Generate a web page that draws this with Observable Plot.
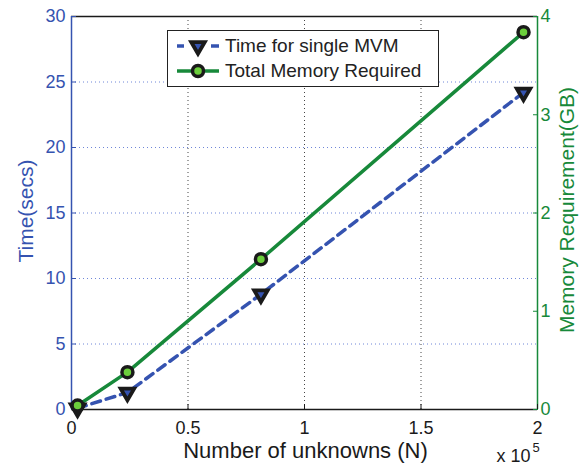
<!DOCTYPE html>
<html>
<head>
<meta charset="utf-8">
<script src="https://cdn.jsdelivr.net/npm/d3@7"></script>
<script src="https://cdn.jsdelivr.net/npm/@observablehq/plot@0.6"></script>
<style>
  body { margin: 0; background: #fff; font-family: "Liberation Sans", Arial, sans-serif; }
  #wrap { position: relative; width: 587px; height: 467px; }
  #legend { position: absolute; left: 167px; top: 30px; width: 272px; height: 57px; box-sizing: border-box;
            border: 1.5px solid #222; background: #fff; }
  .item { position: absolute; left: 9px; height: 24px; display: flex; align-items: center; }
  .item svg { width: 44px; height: 24px; display: block; }
  .item span { margin-left: 4px; font-size: 19px; color: #222; white-space: nowrap; }
</style>
</head>
<body>
<div id="wrap"></div>
<script>
// ---- data ----
const unknowns   = [2600, 24000, 81300, 194000];   // N
const timeSecs   = [0.1, 1.3, 8.8, 24.2];          // Time for single MVM (s)
const memoryGB   = [0.04, 0.38, 1.53, 3.84];       // Total Memory Required (GB)
const seriesNames = ["Time for single MVM", "Total Memory Required"];

const xDomain = [0, 200000];
const xTicks = [0, 50000, 100000, 150000, 200000];
const xTickLabels = ["0", "0.5", "1", "1.5", "2"];
const timeDomain = [0, 30];
const timeTicks = [0, 5, 10, 15, 20, 25, 30];
const memDomain = [0, 4];
const memTicks = [0, 1, 2, 3, 4];

const blue = "#3553b0";
const green = "#17893a";
const lightGreen = "#6ccf3c";
const ink = "#1a1a1a";

// memory drawn on the time scale (dual axis)
const K = timeDomain[1] / memDomain[1];
const rows = unknowns.map((n, i) => ({n, t: timeSecs[i], m: memoryGB[i]}));

const chart = Plot.plot({
  width: 587,
  height: 467,
  marginLeft: 71,
  marginRight: 50,
  marginTop: 16,
  marginBottom: 58,
  style: {fontFamily: "Liberation Sans, Arial, sans-serif", fontSize: "18px", background: "#fff", overflow: "visible"},
  x: {domain: xDomain, label: null},
  y: {domain: timeDomain, label: null},
  marks: [
    Plot.gridY(timeTicks.slice(1, -1), {stroke: "#6f86d8", strokeOpacity: 1, strokeWidth: 1, strokeDasharray: "1,3"}),
    Plot.gridX(xTicks.slice(1, -1), {stroke: "#444", strokeOpacity: 1, strokeWidth: 1, strokeDasharray: "1,3"}),
    Plot.ruleY([timeDomain[1]], {stroke: ink, strokeWidth: 1.5}),
    Plot.ruleY([timeDomain[0]], {stroke: ink, strokeWidth: 1.5}),
    Plot.ruleX([xDomain[0]], {stroke: blue, strokeWidth: 1.5}),
    Plot.ruleX([xDomain[1]], {stroke: green, strokeWidth: 1.5}),
    Plot.axisX({ticks: xTicks, tickFormat: d => xTickLabels[xTicks.indexOf(d)], tickSize: -5, tickPadding: 17,
                fontSize: 18, color: ink, label: null}),
    Plot.axisY({anchor: "left", ticks: timeTicks, tickFormat: d => String(d), tickSize: -5, tickPadding: 11,
                fontSize: 18, color: blue, label: null}),
    Plot.axisY({anchor: "right", ticks: memTicks.map(m => m * K), tickFormat: d => String(Math.round(d / K)),
                tickSize: -5, tickPadding: 8, fontSize: 18, color: green, label: null}),
    Plot.line(rows, {x: "n", y: "t", stroke: blue, strokeWidth: 3.5, strokeDasharray: "9,6"}),
    Plot.line(rows, {x: "n", y: d => d.m * K, stroke: green, strokeWidth: 3.5}),
    Plot.dot(rows, {x: "n", y: "t", symbol: "triangle", rotate: 180, r: 5, fill: blue, stroke: ink,
                    strokeWidth: 3.8, strokeLinejoin: "miter"}),
    Plot.dot(rows, {x: "n", y: d => d.m * K, r: 5.5, fill: lightGreen, stroke: ink, strokeWidth: 3.5}),
    Plot.text(["Time(secs)"], {text: d => d, frameAnchor: "left", textAnchor: "middle", lineAnchor: "middle",
                               dx: -45, dy: -2, rotate: -90, fill: blue, fontSize: 21}),
    Plot.text(["Memory Requirement(GB)"], {text: d => d, frameAnchor: "right", textAnchor: "middle", lineAnchor: "middle",
                               dx: 30, dy: -3, rotate: -90, fill: green, fontSize: 21}),
    Plot.text(["Number of unknowns (N)"], {text: d => d, frameAnchor: "bottom", textAnchor: "middle", lineAnchor: "middle",
                               dx: 1, dy: 41, fill: ink, fontSize: 22}),
    Plot.text(["x 10"], {text: d => d, frameAnchor: "bottom-right", textAnchor: "end", lineAnchor: "middle",
                         dx: -7, dy: 47, fill: ink, fontSize: 18}),
    Plot.text(["5"], {text: d => d, frameAnchor: "bottom-right", textAnchor: "start", lineAnchor: "middle",
                      dx: -5, dy: 38, fill: ink, fontSize: 13})
  ]
});

const wrap = document.getElementById("wrap");
wrap.appendChild(chart);

// legend
const legend = document.createElement("div");
legend.id = "legend";
const swatches = [
  `<svg viewBox="0 0 44 24"><line x1="0" y1="12" x2="7" y2="12" stroke="${blue}" stroke-width="3.5"/>
     <line x1="34" y1="12" x2="42" y2="12" stroke="${blue}" stroke-width="3.5"/>
     <path d="${d3.symbol(d3.symbolTriangle, 5 * 5 * Math.PI)()}" transform="translate(21,12) rotate(180)"
       fill="${blue}" stroke="${ink}" stroke-width="3.8" stroke-linejoin="miter"/></svg>`,
  `<svg viewBox="0 0 44 24"><line x1="0" y1="12" x2="42" y2="12" stroke="${green}" stroke-width="3.5"/>
     <circle cx="21" cy="12" r="5.5" fill="${lightGreen}" stroke="${ink}" stroke-width="3.5"/></svg>`
];
seriesNames.forEach((name, i) => {
  const item = document.createElement("div");
  item.className = "item";
  item.style.top = (3 + i * 25) + "px";
  item.innerHTML = swatches[i] + `<span>${name}</span>`;
  legend.appendChild(item);
});
wrap.appendChild(legend);
</script>
</body>
</html>
